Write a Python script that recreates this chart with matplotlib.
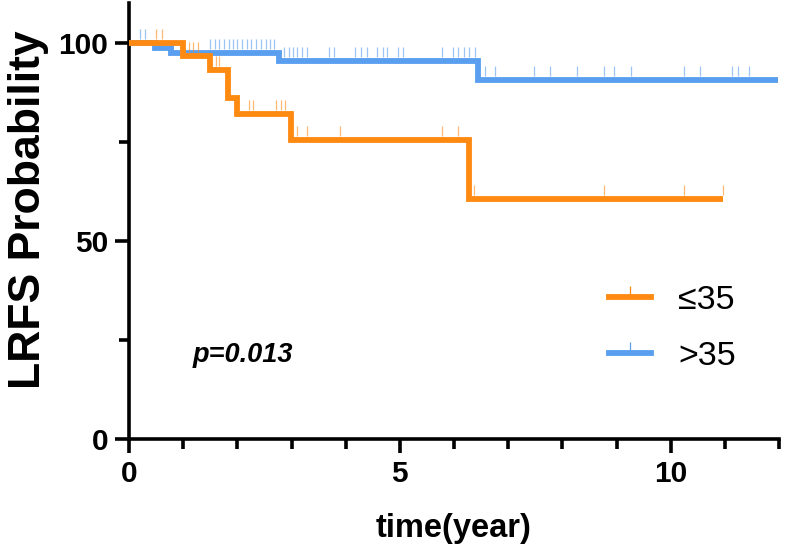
import numpy as np
import matplotlib
matplotlib.use("Agg")
import matplotlib.pyplot as plt
from matplotlib.lines import Line2D

# ---- data ----
# step curves: event times and survival after each step (%)
young_times = [0.0, 1.0, 1.49, 1.83, 2.0, 2.99, 6.27, 10.96]
young_surv = [100.0, 96.6, 93.2, 86.0, 82.0, 75.5, 60.5, 60.5]
old_times = [0.0, 0.48, 0.78, 2.77, 6.45, 11.98]
old_surv = [100.0, 98.7, 97.4, 95.3, 90.5, 90.5]

young_censor = [0.5, 0.6, 1.1, 1.18, 1.27, 1.6, 1.67, 2.21, 2.29, 2.71, 2.8, 2.88,
                3.1, 3.28, 3.9, 5.78, 6.07, 6.37, 8.76, 10.25, 10.96]
old_censor = [0.2, 0.3, 1.5, 1.58, 1.67, 1.76, 1.84, 1.92, 2.0, 2.08, 2.17, 2.26,
              2.34, 2.44, 2.52, 2.6, 2.68, 2.87, 2.95, 3.03, 3.1, 3.19, 3.28, 3.7,
              3.79, 4.18, 4.28, 4.39, 4.58, 4.68, 4.77, 4.96, 5.06, 5.78, 5.98,
              6.08, 6.18, 6.27, 6.38, 6.57, 6.76, 7.48, 7.77, 8.27, 8.77, 8.96,
              9.26, 10.25, 10.54, 11.14, 11.24, 11.44]

labels = ["\u226435", ">35"]
x_ticks = [0, 5, 10]
y_ticks = [0, 50, 100]
p_text = "p=0.013"

ORANGE = "#FF8A12"
BLUE = "#5A9FEF"

plt.rcParams['font.family'] = ['Liberation Sans', 'DejaVu Sans']

fig = plt.figure(figsize=(7.91, 5.54), dpi=100)
ax = fig.add_axes([129 / 791, 1 - 439 / 554, (779 - 129) / 791, (439 - 3) / 554])


def surv_at(times, surv, t):
    idx = np.searchsorted(times, t, side='right') - 1
    return np.asarray(surv)[idx]


for times, surv, cens, col in [(old_times, old_surv, old_censor, BLUE),
                                (young_times, young_surv, young_censor, ORANGE)]:
    ax.step(times, surv, where='post', color=col, lw=4.2, solid_capstyle='butt',
            solid_joinstyle='miter', zorder=3)
    cy = surv_at(times, surv, np.array(cens)) + 1.0
    ax.plot(cens, cy, linestyle='none', marker=2, markersize=7, mew=0.9,
            color=col, alpha=0.6, zorder=4)

ax.set_xlim(0, 12)
ax.set_ylim(0, 110)

for s in ['top', 'right']:
    ax.spines[s].set_visible(False)
for s in ['left', 'bottom']:
    ax.spines[s].set_linewidth(2.6)
ax.spines['left'].set_bounds(0, 110)

ax.set_xticks(x_ticks)
ax.set_yticks(y_ticks)
ax.set_xticks(np.arange(0, 13, 1), minor=True)
ax.set_yticks([25, 75], minor=True)
ax.tick_params(axis='both', which='major', length=10, width=2.6, labelsize=21.5,
               pad=5, direction='out')
ax.tick_params(axis='both', which='minor', length=7, width=2.6, direction='out')
for lab in ax.get_xticklabels() + ax.get_yticklabels():
    lab.set_fontweight('bold')

ax.set_xlabel("time(year)", fontsize=23.5, fontweight='bold', labelpad=18)
ax.set_ylabel("LRFS Probability", fontsize=32, fontweight='bold', labelpad=7)
ax.yaxis.label.set_y(0.525)

ax.text(1.18, 21.3, p_text, fontsize=19.5, fontweight='bold', style='italic',
        ha='left', va='center')

handles = [Line2D([0], [0], color=ORANGE, lw=4.2, marker=2, markersize=8,
                  mew=0.9, markeredgecolor=ORANGE),
           Line2D([0], [0], color=BLUE, lw=4.2, marker=2, markersize=8,
                  mew=0.9, markeredgecolor=BLUE)]
fig.legend(handles, labels, loc='upper left', bbox_to_anchor=(592 / 791, 1 - 268 / 554),
           frameon=False, fontsize=24.5, handlelength=1.24, handletextpad=0.8,
           labelspacing=0.72, borderpad=0, numpoints=1)

fig.savefig("out.png", dpi=100)
